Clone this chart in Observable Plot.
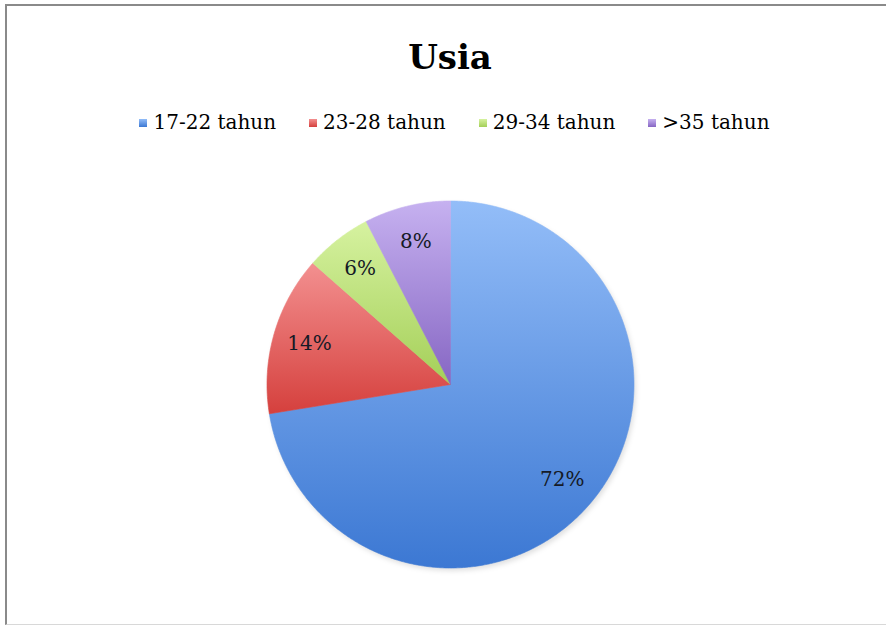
<!DOCTYPE html>
<html><head><meta charset="utf-8">
<script src="https://cdn.jsdelivr.net/npm/d3@7"></script>
<script src="https://cdn.jsdelivr.net/npm/@observablehq/plot@0.6"></script>
<style>
html,body{margin:0;padding:0;background:#fff;width:886px;height:626px;overflow:hidden;position:relative}
#frame{position:absolute;left:5px;top:4px;width:900px;height:621px;border-top:2px solid #8a8a8a;border-left:2px solid #8a8a8a;border-bottom:1px solid #d8d8d8;box-sizing:border-box}
#title{position:absolute;left:0;top:40px;width:900px;text-align:center;font:bold 34px/34px "DejaVu Serif";color:#000}
#legend{position:absolute;left:0;top:112px;width:909px;display:flex;justify-content:center;gap:33px;font:20px/20px "DejaVu Serif";color:#000}
#legend .it{display:flex;align-items:center;white-space:nowrap}
#legend .sw{width:8px;height:8px;margin-right:6px;margin-top:2px}
#chart{position:absolute;left:0;top:150px}
</style></head>
<body>
<div id="frame"></div>
<div id="title">Usia</div>
<div id="legend"></div>
<div id="chart"></div>
<script>
const categories = ["17-22 tahun", "23-28 tahun", "29-34 tahun", ">35 tahun"];
const values = [72.45, 14.05, 5.9, 7.6];
const labels = ["72%", "14%", "6%", "8%"];
const gradTop = ["#93bdf8", "#f39090", "#d6f2a0", "#c6b1f0"];
const gradBottom = ["#3c78d3", "#d5403d", "#a4cf58", "#8666c3"];

// legend
const leg = document.getElementById("legend");
categories.forEach((c, i) => {
  const it = document.createElement("div"); it.className = "it";
  const sw = document.createElement("span"); sw.className = "sw";
  sw.style.background = `linear-gradient(${gradTop[i]}, ${gradBottom[i]})`;
  it.appendChild(sw);
  it.appendChild(document.createTextNode(c));
  leg.appendChild(it);
});

const arcs = d3.pie().sort(null).value(d => d)(values);
const slices = [];
arcs.forEach((a, i) => {
  const cat = categories[i];
  slices.push({cat, x: 0, y: 0});
  const n = Math.ceil((a.endAngle - a.startAngle) / (Math.PI / 360));
  for (let k = 0; k <= n; k++) {
    const t = a.startAngle + (a.endAngle - a.startAngle) * k / n;
    slices.push({cat, x: Math.sin(t), y: Math.cos(t)});
  }
  slices.push({cat, x: 0, y: 0});
});
const labelData = arcs.map((a, i) => {
  const m = (a.startAngle + a.endAngle) / 2;
  return {x: 0.8 * Math.sin(m), y: 0.8 * Math.cos(m), text: labels[i]};
});

const R = 183.5, cx = 450, cy = 234;
const svg = Plot.plot({
  width: 886, height: 450,
  margin: 0,
  x: {domain: [-1, 1], range: [cx - R, cx + R], axis: null},
  y: {domain: [-1, 1], range: [cy + R, cy - R], axis: null},
  style: {background: "transparent", overflow: "visible"},
  marks: [
    Plot.dot([{x: 0, y: 0}], {x: "x", y: "y", r: R, fill: "#000", fillOpacity: 0.12, dx: 2, dy: 3, stroke: "none", className: "shadow"}),
    ...categories.map((c, i) => Plot.line(slices.filter(d => d.cat === c), {
      x: "x", y: "y", fill: `url(#g${i})`, stroke: `url(#g${i})`, strokeWidth: 0.6, curve: "linear"
    })),
    Plot.text(labelData, {x: "x", y: "y", text: "text", fontSize: 20, fontFamily: "DejaVu Serif", fill: "#151a26"})
  ]
});
const ns = "http://www.w3.org/2000/svg";
const defs = document.createElementNS(ns, "defs");
categories.forEach((c, i) => {
  const g = document.createElementNS(ns, "linearGradient");
  g.setAttribute("id", "g" + i);
  g.setAttribute("x1", "0"); g.setAttribute("y1", "0");
  g.setAttribute("x2", "0"); g.setAttribute("y2", "1");
  [[0, gradTop[i]], [1, gradBottom[i]]].forEach(([o, col]) => {
    const s = document.createElementNS(ns, "stop");
    s.setAttribute("offset", o); s.setAttribute("stop-color", col);
    g.appendChild(s);
  });
  defs.appendChild(g);
});
const filt = document.createElementNS(ns, "filter");
filt.setAttribute("id", "blur");
const fb = document.createElementNS(ns, "feGaussianBlur");
fb.setAttribute("stdDeviation", "2.5");
filt.appendChild(fb);
defs.appendChild(filt);
svg.insertBefore(defs, svg.firstChild);
svg.querySelectorAll(".shadow circle").forEach(e => e.setAttribute("filter", "url(#blur)"));
document.getElementById("chart").appendChild(svg);
</script>
</body></html>
